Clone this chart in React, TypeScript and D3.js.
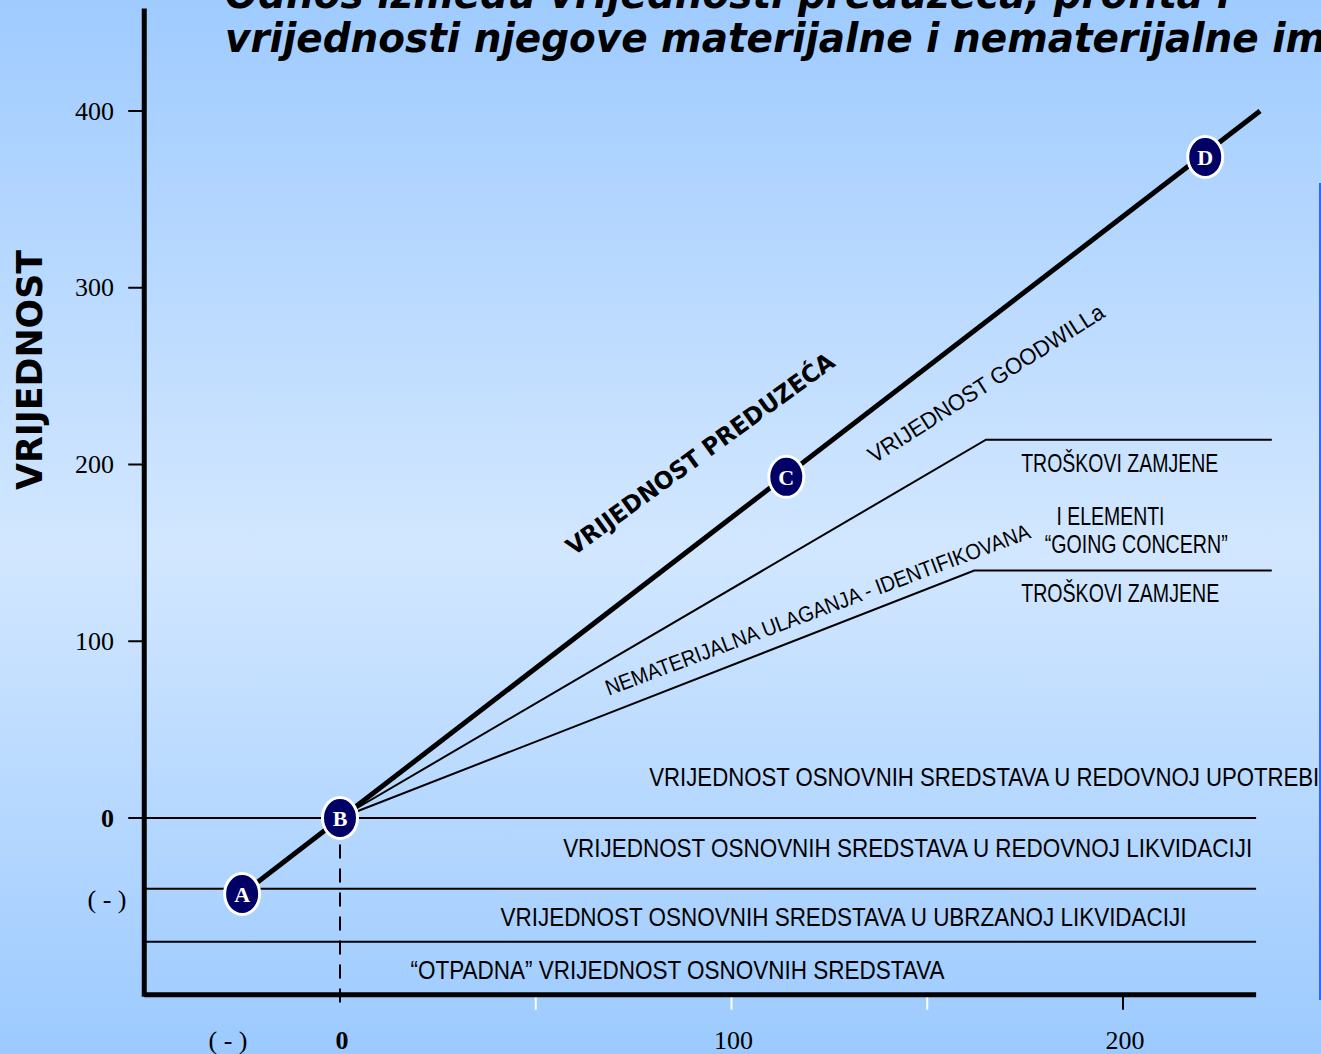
import React from "react";
import * as d3 from "d3";

const W = 1321;
const H = 1054;

// axis ticks
const yTicks = [0, 100, 200, 300, 400];
const xTickLabels = [0, 100, 200];
const xMinorTicks = [50, 100, 150];
const xMajorTicks = [200];

// horizontal levels (value axis)
const zeroLevel = 0;
const regularLiquidation = -40;
const fastLiquidation = -70;
const axisBottom = -100;
const axisLeft = -50;
const axisRight = 234;
const axisTop = 458;

// company value line and points
const valueLine: [number, number][] = [
  [-25, -43],
  [235, 400],
];
const points = [
  { id: "A", x: -25, y: -43 },
  { id: "B", x: 0, y: 0 },
  { id: "C", x: 114, y: 193 },
  { id: "D", x: 221, y: 374 },
];
const goodwillLine: [number, number][] = [
  [0, 0],
  [165, 214],
  [238, 214],
];
const intangibleLine: [number, number][] = [
  [0, 0],
  [162, 140],
  [238, 140],
];

const titleLines = [
  "Odnos između vrijednosti preduzeća, profita i",
  "vrijednosti njegove materijalne i nematerijalne imovine",
];

const bandLabels = [
  { text: "VRIJEDNOST OSNOVNIH SREDSTAVA U REDOVNOJ UPOTREBI", x: 79, y: 18, len: 670 },
  { text: "VRIJEDNOST OSNOVNIH SREDSTAVA U REDOVNOJ LIKVIDACIJI", x: 57, y: -22, len: 689 },
  { text: "VRIJEDNOST OSNOVNIH SREDSTAVA U UBRZANOJ LIKVIDACIJI", x: 41, y: -61, len: 686 },
  { text: "\u201COTPADNA\u201D VRIJEDNOST OSNOVNIH SREDSTAVA", x: 18, y: -91, len: 534 },
  { text: "TROŠKOVI ZAMJENE", x: 174, y: 196, len: 197 },
  { text: "I ELEMENTI", x: 183, y: 166, len: 108 },
  { text: "\u201CGOING CONCERN\u201D", x: 180, y: 150, len: 183 },
  { text: "TROŠKOVI ZAMJENE", x: 174, y: 122, len: 198 },
];

const slantLabels = [
  { text: "VRIJEDNOST PREDUZEĆA", x: 92, y: 206, angle: -36, len: 325, size: 24, bold: true },
  { text: "VRIJEDNOST GOODWILLa", x: 165, y: 246, angle: -32.5, len: 275, size: 23, bold: false },
  { text: "NEMATERIJALNA ULAGANJA - IDENTIFIKOVANA", x: 122, y: 118, angle: -20.5, len: 452, size: 22, bold: false },
];

const App: React.FC = () => {
  const x = d3.scaleLinear().domain([0, 200]).range([340, 1123]);
  const y = d3.scaleLinear().domain([0, 400]).range([818, 111]);
  const line = d3
    .line<[number, number]>()
    .x((d) => x(d[0]))
    .y((d) => y(d[1]));

  const sans = "Liberation Sans, Arial, sans-serif";
  const serif = "Liberation Serif, Times New Roman, serif";

  return (
    <svg width={W} height={H} style={{ position: "absolute", left: 0, top: 0 }}>
      <defs>
        <linearGradient id="bg" x1="0" y1="0" x2="0" y2="1">
          <stop offset="0%" stopColor="#9fcbff" />
          <stop offset="52%" stopColor="#d2e7ff" />
          <stop offset="100%" stopColor="#9ccaff" />
        </linearGradient>
      </defs>
      <rect width={W} height={H} fill="url(#bg)" />

      {/* title */}
      {titleLines.map((t, i) => (
        <text
          key={i}
          transform={`translate(225,${8 + i * 44}) scale(0.95,1)`}
          fontFamily="DejaVu Sans, Verdana, sans-serif"
          fontWeight="bold"
          fontStyle="oblique"
          fontSize={41}
          fill="#000"
        >
          {t}
        </text>
      ))}

      {/* right edge rule */}
      <line x1={1320} x2={1320} y1={183} y2={1000} stroke="#3366ff" strokeWidth={2} />

      {/* y axis title */}
      <text
        transform="translate(42,370) rotate(-90)"
        textAnchor="middle"
        fontFamily="DejaVu Sans, Verdana, sans-serif"
        fontWeight="bold"
        fontSize={36}
        textLength={240}
        lengthAdjust="spacingAndGlyphs"
      >
        VRIJEDNOST
      </text>

      {/* horizontal levels */}
      <line x1={x(axisLeft) - 15} x2={x(axisRight)} y1={y(zeroLevel)} y2={y(zeroLevel)} stroke="#000" strokeWidth={2} />
      {[regularLiquidation, fastLiquidation].map((v) => (
        <line key={v} x1={x(axisLeft)} x2={x(axisRight)} y1={y(v)} y2={y(v)} stroke="#000" strokeWidth={2} />
      ))}

      {/* y ticks */}
      {yTicks.map((t) => (
        <g key={t}>
          <line x1={x(axisLeft) - 16} x2={x(axisLeft)} y1={y(t)} y2={y(t)} stroke="#000" strokeWidth={2} />
          <text
            x={114}
            y={y(t)}
            dy="0.33em"
            textAnchor="end"
            fontFamily={serif}
            fontSize={26}
            fontWeight={t === 0 ? "bold" : "normal"}
          >
            {t}
          </text>
        </g>
      ))}
      <text x={107} y={y(-46)} dy="0.33em" textAnchor="middle" fontFamily={serif} fontSize={26}>
        ( - )
      </text>

      {/* x ticks */}
      {xMinorTicks.map((t) => (
        <line key={t} x1={x(t)} x2={x(t)} y1={y(axisBottom)} y2={y(axisBottom) + 15} stroke="#fff" strokeWidth={2} />
      ))}
      {xMajorTicks.map((t) => (
        <line key={t} x1={x(t)} x2={x(t)} y1={y(axisBottom)} y2={y(axisBottom) + 15} stroke="#000" strokeWidth={2} />
      ))}
      {xTickLabels.map((t) => (
        <text
          key={t}
          x={x(t) + 2}
          y={1040}
          dy="0.33em"
          textAnchor="middle"
          fontFamily={serif}
          fontSize={26}
          fontWeight={t === 0 ? "bold" : "normal"}
        >
          {t}
        </text>
      ))}
      <text x={228} y={1040} dy="0.33em" textAnchor="middle" fontFamily={serif} fontSize={26}>
        ( - )
      </text>

      {/* dashed zero line */}
      <line
        x1={x(0)}
        x2={x(0)}
        y1={y(-15)}
        y2={y(axisBottom) + 15}
        stroke="#000"
        strokeWidth={2}
        strokeDasharray="14,10"
      />

      {/* axes */}
      <line x1={x(axisLeft)} x2={x(axisLeft)} y1={y(axisTop)} y2={y(axisBottom) + 2} stroke="#000" strokeWidth={5} />
      <line x1={x(axisLeft)} x2={x(axisRight)} y1={y(axisBottom)} y2={y(axisBottom)} stroke="#000" strokeWidth={5} />

      {/* value lines */}
      <path d={line(goodwillLine) || ""} fill="none" stroke="#000" strokeWidth={2} />
      <path d={line(intangibleLine) || ""} fill="none" stroke="#000" strokeWidth={2} />
      <path d={line(valueLine) || ""} fill="none" stroke="#000" strokeWidth={5} />

      {/* band labels */}
      {bandLabels.map((l, i) => (
        <text
          key={i}
          x={x(l.x)}
          y={y(l.y)}
          fontFamily={sans}
          fontSize={25}
          textLength={l.len}
          lengthAdjust="spacingAndGlyphs"
          fill="#000"
        >
          {l.text}
        </text>
      ))}

      {/* slanted labels */}
      {slantLabels.map((l, i) => (
        <text
          key={i}
          transform={`translate(${x(l.x)},${y(l.y)}) rotate(${l.angle})`}
          textAnchor="middle"
          dy="0.35em"
          fontFamily={l.bold ? "DejaVu Sans, Verdana, sans-serif" : sans}
          fontWeight={l.bold ? "bold" : "normal"}
          fontSize={l.size}
          textLength={l.len}
          lengthAdjust="spacingAndGlyphs"
        >
          {l.text}
        </text>
      ))}

      {/* points */}
      {points.map((p) => (
        <g key={p.id} transform={`translate(${x(p.x)},${y(p.y)})`}>
          <ellipse rx={17.5} ry={20.5} fill="#000066" stroke="#fff" strokeWidth={3} />
          <text
            textAnchor="middle"
            dy="0.35em"
            fill="#fff"
            fontFamily={serif}
            fontWeight="bold"
            fontSize={22}
          >
            {p.id}
          </text>
        </g>
      ))}
    </svg>
  );
};

export default App;
